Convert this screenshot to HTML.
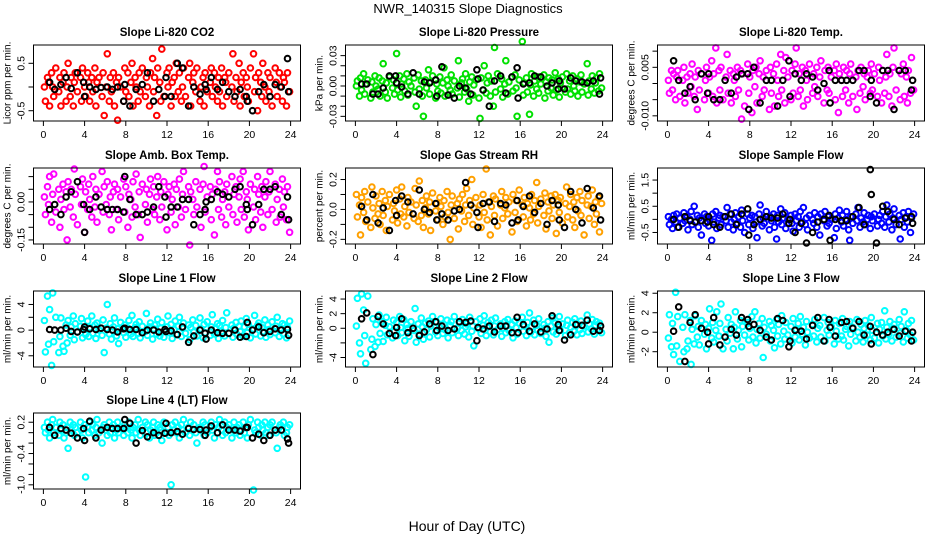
<!DOCTYPE html>
<html><head><meta charset="utf-8"><style>
html,body{margin:0;padding:0;background:#fff;}
svg{display:block;font-family:"Liberation Sans",Arial,sans-serif;}
</style></head><body>
<svg id="chart" width="936" height="540" viewBox="0 0 936 540">
<text x="468" y="13" text-anchor="middle" font-size="13">NWR_140315  Slope Diagnostics</text>
<text x="467" y="531" text-anchor="middle" font-size="14">Hour of Day (UTC)</text>
</svg>
<script>
const hc=[0.1,0.2,0.4,0.5,0.6,0.8,0.9,1.0,1.2,1.5,1.6,1.7,1.9,2.0,2.2,2.3,2.4,2.6,2.7,2.9,3.0,3.1,3.3,3.6,3.7,3.8,4.0,4.1,4.3,4.4,4.5,4.7,4.8,5.0,5.1,5.2,5.4,5.7,5.8,5.9,6.1,6.2,6.4,6.5,6.6,6.8,6.9,7.1,7.2,7.3,7.5,7.8,7.9,8.0,8.2,8.3,8.5,8.6,8.7,8.9,9.0,9.2,9.3,9.4,9.6,9.9,10.0,10.1,10.3,10.4,10.6,10.7,10.8,11.0,11.1,11.3,11.4,11.5,11.7,12.0,12.1,12.2,12.4,12.5,12.7,12.8,12.9,13.1,13.2,13.4,13.5,13.6,13.8,14.1,14.2,14.3,14.5,14.6,14.8,14.9,15.2,15.3,15.5,15.6,15.7,15.9,16.2,16.3,16.4,16.6,16.7,16.9,17.0,17.1,17.3,17.4,17.6,17.7,17.8,18.0,18.3,18.4,18.5,18.7,18.8,19.0,19.1,19.2,19.4,19.5,19.7,19.8,19.9,20.1,20.4,20.5,20.6,20.8,20.9,21.1,21.2,21.3,21.5,21.6,21.8,21.9,22.0,22.2,22.5,22.6,22.7,22.9,23.0,23.2,23.3,23.4,23.6,23.7,23.9];
const hb=[0.6,1.1,1.7,2.2,2.7,3.3,3.9,4.0,4.5,5.1,5.6,6.2,6.7,7.2,7.8,7.9,8.4,9.0,9.6,10.1,10.7,11.2,11.8,11.9,12.4,13.0,13.5,14.1,14.6,15.2,15.7,15.8,16.3,16.9,17.4,18.0,18.6,19.1,19.7,19.8,20.3,20.9,21.4,22.0,22.5,23.1,23.7,23.8];
const xTicks=[0,4,8,12,16,20,24];

const co2C=[0.0,-0.3,0.2,0.1,-0.4,0.3,0.0,-0.2,0.4,-0.1,0.2,-0.4,0.1,0.3,-0.3,0.0,0.5,-0.2,0.2,-0.4,0.1,0.3,-0.1,0.2,-0.3,0.4,0.0,-0.2,0.3,0.1,-0.3,0.2,-0.1,0.4,-0.4,0.1,0.2,-0.2,0.3,-0.6,0.0,0.7,-0.3,0.2,-0.1,0.3,-0.4,0.1,-0.7,0.2,0.0,-0.3,0.4,-0.1,0.3,-0.2,0.1,0.5,-0.4,0.2,0.0,-0.3,0.3,-0.1,0.4,-0.2,0.2,0.0,-0.4,0.3,0.6,-0.1,0.2,-0.6,0.4,0.1,-0.3,0.8,-0.2,0.3,0.0,0.4,-0.4,0.1,0.2,-0.2,0.5,-0.1,0.3,-0.3,0.0,0.4,-0.2,0.2,0.5,-0.4,0.1,0.3,-0.1,0.4,-0.3,0.0,0.2,-0.4,0.3,-0.1,0.1,0.4,-0.2,0.3,0.0,-0.3,0.2,-0.1,0.4,-0.4,0.2,0.1,-0.2,0.3,0.0,0.7,-0.3,0.2,-0.1,0.5,-0.4,0.1,0.3,-0.2,0.2,0.0,-0.3,0.4,0.7,-0.1,0.2,-0.5,0.3,0.1,-0.2,0.5,0.0,-0.3,0.3,-0.1,0.2,-0.4,0.4,0.1,-0.2,0.3,0.0,-0.3,0.2,0.1,-0.4,0.3,-0.1,0.2];
const co2B=[0.1,-0.05,0.05,0.2,-0.03,0.3,0.1,-0.2,0.0,-0.05,-0.01,0.0,-0.05,0.0,-0.3,0.05,-0.4,-0.05,0.05,0.3,-0.3,-0.05,-0.2,0.2,-0.2,0.5,0.4,-0.4,0.0,-0.15,0.05,-0.05,0.2,-0.05,0.1,-0.1,-0.2,-0.05,-0.2,-0.3,-0.5,-0.1,0.05,-0.2,0.05,0.0,0.6,-0.1];
const presC=[0,.005,-.01,.008,-.004,.012,-.008,.002,.006,-.012,.004,-.006,.01,0,-.003,.008,-.01,.005,.022,-.006,.003,-.012,.009,-.002,.006,-.008,.032,-.004,.01,-.011,.002,.007,-.005,.012,-.009,.004,0,.008,-.006,-.02,.011,-.003,.005,-.01,-.03,.006,-.002,.016,-.008,.004,.01,-.012,.002,-.005,.009,-.007,.003,.018,-.01,.006,0,-.004,.011,-.008,.005,-.002,.025,-.011,.003,.007,-.006,.012,-.003,-.015,.004,.009,-.009,.001,.006,-.012,-.032,.008,-.004,.02,-.007,.003,.01,-.01,.005,-.02,.038,-.006,.012,-.003,.007,-.011,.002,.025,-.008,.004,.009,-.005,.011,-.002,-.03,.006,.044,-.009,.003,.008,-.006,-.028,.001,.012,-.01,.005,-.003,.009,-.007,.002,.011,-.012,.004,-.005,.008,-.002,.006,-.009,.013,-.004,.007,-.011,.003,.009,-.006,.012,-.003,.005,-.008,.01,0,-.005,.007,-.01,.004,.011,-.006,.002,.022,-.009,.005,-.003,.01,-.007,.003,.008,-.005,.012,-.002,-.03];
const presB=[.002,.002,-.008,-.008,-.002,.01,.01,.003,-.001,-.008,.013,-.008,.004,.003,.006,-.01,.019,-.009,-.012,0,-.002,-.008,.016,.007,-.004,-.02,.005,.01,-.007,.009,.018,-.012,.002,.003,.01,.009,0,.003,-.003,.005,-.003,.008,.005,.004,.003,.005,-.008,.008];
const tempC=[.001,-.003,.004,-.002,.003,-.005,.002,.004,-.004,.001,.005,-.006,.002,-.003,.003,-.001,.006,-.004,.002,-.008,.004,-.002,.003,-.005,.001,.005,-.003,.002,.007,-.004,.003,.011,-.006,.004,-.002,.005,-.005,.002,.009,-.003,.004,-.006,.003,.001,-.004,.005,-.002,.004,-.011,.003,-.007,.006,-.003,.002,-.009,.004,-.001,.005,-.006,.003,.007,-.004,.002,-.002,.004,-.008,.005,-.003,.003,-.007,.006,.001,-.004,.009,-.002,.004,-.006,.008,.002,-.005,.004,-.003,.006,.011,-.004,.003,-.002,.005,-.007,.004,.001,-.005,.006,-.003,.003,-.001,.005,-.004,.002,.007,-.006,.004,-.002,.005,-.003,.002,.004,-.005,.006,-.009,.003,.001,-.004,.005,-.002,.004,-.006,.003,.006,-.004,.002,-.008,.004,-.003,.005,-.001,.003,-.005,.002,.004,-.003,.006,-.002,.003,-.004,.005,.001,-.006,.004,-.003,.002,.009,-.004,.003,-.007,.005,.011,-.002,.004,-.005,.003,.006,-.004,.002,-.006,.004,-.003,.008,-.002,-.010,.003,-.007];
const tempB=[.007,.001,-.003,-.001,-.005,.003,-.003,.003,-.005,-.005,.001,-.003,.002,.003,.003,-.008,.005,-.006,.001,.001,-.007,.001,.007,-.004,.003,.001,.003,.002,-.002,0,.004,-.006,.001,.001,.001,.001,.004,.004,-.004,.001,-.006,.004,.004,-.008,.004,.004,-.002,.001];
const ambC=[.02,-.05,.06,-.01,.1,-.08,.03,.11,-.04,.05,-.1,.01,.07,-.03,.04,-.15,.08,-.02,.05,-.06,.13,.03,-.09,.06,-.01,.09,-.12,.04,-.03,.07,.01,-.06,.1,-.02,.05,-.08,.03,.12,-.04,.06,-.01,.08,-.05,.02,-.11,.04,.07,-.03,.05,-.07,.02,.09,-.04,.06,-.1,.03,.01,-.06,.08,-.02,.11,-.05,.04,-.14,.07,-.01,.05,-.08,.03,.09,-.03,.06,-.05,.02,.1,-.07,.04,-.02,.08,-.11,.03,.06,-.04,.01,.07,-.09,.05,-.02,.09,-.06,.03,.12,-.03,.06,-.17,.04,.01,-.05,.08,-.02,.05,-.1,.07,.14,-.04,.02,.06,-.07,.03,-.13,.05,.12,-.03,.08,-.06,.01,.04,-.09,.07,-.02,.1,-.05,.03,.06,-.08,.02,.09,-.03,.12,-.06,.04,.01,-.11,.07,-.02,.05,-.07,.1,.03,-.04,.06,-.1,.02,.08,-.05,.04,.12,-.03,.07,-.08,.01,.05,-.06,.09,-.02,.04,-.07,.06,-.12,.03,.1,-.04,.05,-.09];
const ambB=[-.03,-.01,-.05,.02,.04,.08,-.01,-.12,-.03,.02,-.02,-.03,-.03,-.03,-.04,.1,.01,-.05,-.05,-.04,-.02,.06,.02,-.06,-.02,-.02,.01,.01,-.09,-.05,-.03,0,.01,.04,.03,.02,.05,.06,-.01,-.03,-.09,-.01,.05,.05,.06,-.05,.02,-.07];
const rhC=[.1,-.05,.03,-.17,.08,-.02,.12,-.08,.05,-.12,.15,.01,-.06,.09,-.03,.04,-.1,.12,-.04,.06,-.14,.02,.1,-.07,.04,-.01,.13,-.09,.07,-.03,.15,-.05,.02,-.11,.08,-.02,.05,-.06,.14,.03,-.08,.19,-.04,.06,-.12,.01,.09,-.03,.05,-.14,.11,-.01,.04,-.07,.08,.02,-.1,.06,-.05,.12,-.02,-.2,.03,.09,-.06,.04,-.13,.07,-.01,.1,-.08,.03,.14,-.04,.06,.2,-.1,.01,.08,-.05,.03,-.12,.1,-.02,.27,-.07,.05,-.17,.02,.09,-.04,.07,-.11,.03,.12,-.06,.01,.08,-.03,.05,-.15,.1,-.02,.06,-.08,.13,.03,-.05,.08,-.11,.04,.01,-.07,.1,-.03,.06,.18,-.09,.02,.07,-.04,.11,-.13,.05,-.01,.09,-.06,.03,.1,-.16,.06,-.02,.08,-.09,.04,.15,-.05,.02,.1,-.07,.05,-.12,.08,-.01,.12,-.04,.06,-.17,.03,.09,-.06,.02,.13,-.1,.05,-.03,.08,-.15,.04,-.01,.1,-.07,.03];
const rhB=[.02,-.07,.1,-.09,.01,-.14,.06,-.04,.09,.05,-.03,.13,0,-.02,.04,-.07,-.03,-.07,-.01,0,.18,.03,-.02,-.12,.04,.05,-.08,.04,.03,-.09,.06,-.07,.02,.09,-.02,.04,-.1,.06,.03,-.07,-.12,.12,0,-.09,.14,.01,.09,-.07];
const sfC=[.1,-.2,0,-.35,.15,-.1,.2,-.3,.05,-.15,.25,-.05,.1,-.4,0,.3,-.2,.5,-.1,.15,-.3,.05,-.6,.2,-.15,.1,-.25,0,-.8,.2,-.1,.3,-.35,.05,.15,-.2,.1,-.05,.45,-.3,.2,-.1,-.4,0,.25,-.15,.1,-.3,.35,-.05,-.5,.2,-.2,.05,.15,-.35,.1,-.1,-.7,.2,.55,-.25,.05,-.15,.3,-.4,.1,-.05,.2,-.3,-.75,.15,-.1,.4,-.2,.05,.25,-.35,0,.15,-.15,-.45,.2,-.05,.1,-.3,.3,-.1,.45,-.2,.05,-.4,.15,0,-.15,.25,-.3,.1,-.6,.2,-.05,.3,-.25,.1,-.15,0,-.7,.2,-.35,.05,.35,-.1,.15,-.25,0,.3,-.4,-.8,.1,-.15,.2,-.05,.45,-.3,.05,-.1,.25,-.2,0,.15,-.35,.1,-.05,.2,-.25,0,.15,-.15,.3,-.3,.1,.55,-.1,.2,-.4,.05,.4,-.2,.15,-.75,0,.25,-.3,.1,-.1,.3,-.5,.05,.2,-.15,.35,-.4];
const sfB=[0,-.3,.1,-.05,-.1,-.05,-.1,.1,-.2,-.3,.1,.2,-.2,.2,.4,-.6,-.2,0,.1,.05,.05,.2,-.15,0,-.5,-.15,-.9,-.5,-.1,0,.15,-.8,0,-.05,-.05,.1,.45,-.2,1.9,.95,-.9,.5,.3,0,-.2,.05,.1,-.15];
const l1C=[1.5,-3.4,5.3,-2.2,3.2,-5.5,5.8,-1.8,2.0,-3.5,-1.0,1.9,-2.5,-3.3,0.8,-2.0,1.5,-0.8,0.5,2.2,-1.5,1.0,-0.3,0.6,1.8,-1.2,0.2,-0.7,1.4,-1.0,0.4,2.2,-0.5,0.8,-1.3,1.1,0.0,-0.8,1.6,-3.5,0.3,4.0,-0.6,1.0,-1.4,0.5,1.9,-0.9,0.2,-2.1,1.2,-0.4,0.8,-1.1,0.3,1.5,-0.6,2.3,-1.0,0.4,0.9,-0.5,1.3,-1.2,0.6,-0.2,2.6,-0.8,0.5,1.1,-1.4,0.2,0.8,-0.6,1.7,-0.9,0.3,1.2,-1.1,0.5,2.2,-0.4,0.9,-1.3,0.1,1.4,-0.7,0.6,2.0,-1.0,0.3,1.1,-0.5,0.8,-1.5,0.4,1.6,-0.3,0.7,-0.9,1.9,0.2,-1.2,0.9,-0.4,1.3,-0.8,0.5,2.4,-0.6,0.2,1.0,-1.3,0.7,-0.2,1.5,-0.9,0.4,2.7,-0.5,0.8,-1.1,0.3,1.2,-0.7,0.6,-0.2,1.4,-1.0,0.5,1.8,-0.4,0.9,-1.2,0.2,2.3,-0.6,0.7,1.1,-0.9,0.4,-0.3,1.6,-1.1,0.8,0.1,-0.7,1.3,-0.4,0.6,2.0,-1.0,0.3,1.0,-0.6,0.8,-1.2,0.4,1.4,-0.5];
const l1B=[.1,0,0,.3,-.2,-.3,.1,.5,.2,.1,.3,.1,0,-.3,.2,.3,.1,.1,-.4,0,0,-.3,.1,-.2,-.1,-.7,.5,-1.9,-.9,0,-.5,-1.4,0,-.4,-.5,-.5,0,-1.1,-1.0,1.2,0,.5,-.4,-.2,.2,0,.1,-.8];
const l2C=[0.3,4.1,-2.0,-3.5,4.7,2.5,-1.0,-4.8,4.4,-2.9,-1.5,1.3,-2.5,0.5,-1.9,1.8,-0.7,0.9,-1.8,0.4,1.5,-0.9,0.2,-1.3,1.1,-0.4,0.8,-1.0,1.6,0.1,-0.6,1.2,-1.7,0.5,0.0,-1.1,0.9,-0.3,2.7,-1.9,0.6,-0.8,1.4,0.2,-1.5,0.7,-0.2,1.0,-1.2,0.3,1.6,-0.5,0.8,-1.0,0.1,1.3,-0.7,0.5,-0.2,1.1,-1.3,0.4,0.9,-0.6,1.6,0.0,-1.0,0.7,-0.3,1.2,-0.8,0.2,0.6,-1.2,1.5,-0.4,0.3,-2.4,0.9,-0.1,1.3,-0.7,0.4,1.7,-1.0,0.2,0.8,-0.5,1.1,-0.9,0.3,1.4,-0.2,0.6,-1.1,0.0,0.9,-0.6,1.2,-0.3,0.5,-1.3,1.0,0.1,-0.8,0.7,1.5,-0.4,0.3,-1.0,0.8,2.1,-0.6,0.2,1.1,-0.9,0.4,-0.2,1.3,-0.7,0.5,0.0,-1.1,0.9,-1.9,0.3,1.4,-0.5,0.7,-0.8,0.2,1.6,-0.3,0.6,-1.0,0.4,1.1,-0.6,0.1,0.8,-0.4,1.3,-0.9,0.5,-0.2,1.0,-0.7,0.3,1.8,-0.5,0.6,-0.1,1.2,-0.8,0.4,0.9,-0.3,0.7,-0.6,1.4,0.1,-0.4];
const l2B=[1.3,2.1,-3.6,1.6,0.6,-0.7,-1.0,0.1,1.3,-0.6,0.0,-1.0,-0.5,0.6,0.9,-0.3,0.3,-0.3,-0.1,0.9,0.8,1.0,-1.7,0.1,-0.1,0.3,-0.5,0.3,0.3,-0.6,1.5,-0.6,0.5,-0.4,0.6,-0.5,-0.1,1.7,0.5,-0.3,-1.6,-0.9,0.5,0.4,1.1,-0.4,-0.3,0.3];
const l3C=[-0.6,1.8,-1.5,0.9,-2.3,4.1,-1.4,1.6,-3.0,0.5,-2.0,1.8,-1.7,-0.9,1.2,-3.3,0.3,-1.2,1.7,-0.5,0.6,-1.3,1.2,-0.2,0.8,-1.7,0.4,2.4,-0.6,1.0,-1.0,0.2,2.1,-0.4,0.9,2.9,-1.7,0.3,-0.9,1.5,-0.1,0.8,-1.7,0.5,2.1,-0.7,0.2,1.2,-1.5,0.6,-0.3,1.0,-0.8,0.4,1.6,-0.5,2.1,-1.1,0.3,0.9,-0.6,1.4,-2.6,0.5,-0.2,1.1,-0.9,0.7,0.2,-1.6,1.3,-0.4,0.8,-1.2,1.7,0.1,-0.7,1.0,-0.3,0.6,-1.1,1.4,-0.5,0.3,0.9,-0.8,1.6,-0.2,0.5,-1.3,1.1,0.0,-0.6,0.8,-0.4,1.3,-1.0,0.4,0.7,-0.5,1.5,-0.9,0.2,1.0,-0.3,0.6,-1.2,1.2,0.1,-0.7,0.9,-0.4,1.4,-0.8,0.3,0.6,-1.4,1.1,-0.2,0.5,-0.9,1.3,0.0,-0.5,0.8,-1.0,0.4,1.2,-0.3,0.7,-0.8,1.5,0.2,-0.6,0.9,-1.1,0.3,1.0,-0.4,2.2,-0.7,0.5,-0.2,1.1,-0.9,0.4,0.8,-0.5,1.3,-0.1,0.6,-1.0,2.1,0.2,-0.6,0.9,-0.3,1.2,-0.8,0.4];
const l3B=[0.1,2.6,-3.0,1.0,1.8,0.4,0.0,-1.2,1.5,-1.3,-0.5,0.3,-0.3,1.5,1.3,0.6,0.8,0.2,-0.5,-0.8,1.4,1.2,-1.5,-0.9,0.2,0.1,-0.7,0.7,1.5,-0.9,1.3,0.5,-0.4,1.0,1.1,0.4,1.1,-0.3,0.6,-1.2,0.0,-0.3,0.0,0.3,-0.4,0.1,-0.9,0.0];
const l4C=[.1,0,.2,.05,-.1,.15,.25,0,.1,-.05,.2,.05,.15,-.1,0,.1,-.3,.2,.05,.15,-.05,.1,0,.2,.05,-.1,.15,-.85,.1,0,.2,.05,.15,-.05,.1,.25,0,-.2,.1,.15,.05,-.05,.2,0,.1,.15,-.1,.05,.2,0,.1,-.05,.15,.1,0,.2,.05,-.1,.1,.15,0,.25,.05,-.05,.1,.2,0,.15,-.1,.05,.1,.2,-.05,0,.15,.1,.05,-.15,.2,0,.1,-.05,-1.0,.15,.05,.2,0,.1,-.1,.15,.05,.25,0,.1,-.05,.2,.05,.15,0,-.2,.1,.05,.2,-.05,.15,0,.1,.2,.05,-.1,.15,0,.1,.25,.05,-.05,.2,0,.1,.15,-.1,.05,.2,0,.1,.15,-.05,.05,.2,0,.1,-.1,.15,.25,-1.1,.05,0,.2,.1,-.05,.15,.05,.2,0,.1,-.05,.15,.2,.05,0,-.3,.1,.15,.05,.2,-.05,0,.1,.15];
const l4B=[.1,-.05,.08,.05,-.01,-.1,.08,-.15,.22,-.1,.05,.1,.08,.08,.08,.25,.18,-.2,.04,-.08,0,-.05,-.01,.18,0,.02,-.03,.08,.06,.06,-.05,.05,.13,0,.15,.05,.05,.03,.1,.1,-.1,-.03,-.15,-.05,.05,.05,-.12,-.2,.15];

const co2Ticks=[-0.5,0,0.5], co2Labels=["-0.5","","0.5"];
const presTicks=[-0.03,-0.02,-0.01,0,0.01,0.02,0.03], presLabels=["-0.03","","","0.00","","","0.03"];
const tempTicks=[-0.01,-0.005,0,0.005,0.01], tempLabels=["-0.010","","","0.005",""];
const ambTicks=[-0.15,-0.1,-0.05,0,0.05,0.1], ambLabels=["-0.15","","","0.00","",""];
const rhTicks=[-0.2,-0.1,0,0.1,0.2], rhLabels=["-0.2","","0.0","","0.2"];
const sfTicks=[-0.5,0,0.5,1,1.5], sfLabels=["-0.5","","0.5","","1.5"];
const l1Ticks=[-4,-2,0,2,4], l1Labels=["-4","","0","","4"];
const l2Ticks=[-4,-2,0,2,4], l2Labels=["-4","","0","2","4"];
const l3Ticks=[-2,0,2,4], l3Labels=["-2","0","2","4"];
const l4Ticks=[-1.0,-0.8,-0.6,-0.4,-0.2,0,0.2], l4Labels=["-1.0","","","-0.4","","","0.2"];

const NS="http://www.w3.org/2000/svg";
const svg=document.getElementById('chart');
function mk(tag,attrs,parent){const e=document.createElementNS(NS,tag);for(const k in attrs)e.setAttribute(k,attrs[k]);(parent||svg).appendChild(e);return e;}

const panels=[
 {t:"Slope Li-820 CO2",yl:"Licor ppm per min.",c:"#ff0000",yc:co2C,yb:co2B,tk:co2Ticks,lb:co2Labels,lo:-0.717,hi:0.886,col:0,row:0},
 {t:"Slope Li-820 Pressure",yl:"kPa per min.",c:"#00e000",yc:presC,yb:presB,tk:presTicks,lb:presLabels,lo:-0.0346,hi:0.0405,col:1,row:0},
 {t:"Slope Li-820 Temp.",yl:"degrees C per min.",c:"#ff00ff",yc:tempC,yb:tempB,tk:tempTicks,lb:tempLabels,lo:-0.0116,hi:0.0119,col:2,row:0},
 {t:"Slope Amb. Box Temp.",yl:"degrees C per min.",c:"#ff00ff",yc:ambC,yb:ambB,tk:ambTicks,lb:ambLabels,lo:-0.166,hi:0.134,col:0,row:1},
 {t:"Slope Gas Stream RH",yl:"percent per min.",c:"#ffa000",yc:rhC,yb:rhB,tk:rhTicks,lb:rhLabels,lo:-0.231,hi:0.277,col:1,row:1},
 {t:"Slope Sample Flow",yl:"ml/min per min.",c:"#0000ff",yc:sfC,yb:sfB,tk:sfTicks,lb:sfLabels,lo:-0.94,hi:1.96,col:2,row:1},
 {t:"Slope Line 1 Flow",yl:"ml/min per min.",c:"#00ffff",yc:l1C,yb:l1B,tk:l1Ticks,lb:l1Labels,lo:-5.75,hi:6.1,col:0,row:2},
 {t:"Slope Line 2 Flow",yl:"ml/min per min.",c:"#00ffff",yc:l2C,yb:l2B,tk:l2Ticks,lb:l2Labels,lo:-5.3,hi:5.1,col:1,row:2},
 {t:"Slope Line 3 Flow",yl:"ml/min per min.",c:"#00ffff",yc:l3C,yb:l3B,tk:l3Ticks,lb:l3Labels,lo:-3.57,hi:4.23,col:2,row:2},
 {t:"Slope Line 4 (LT) Flow",yl:"ml/min per min.",c:"#00ffff",yc:l4C,yb:l4B,tk:l4Ticks,lb:l4Labels,lo:-1.08,hi:0.377,col:0,row:3}
];
const colX=[33.5,345.5,657.5], rowY=[45,168,291,413], W=267, H=76;

panels.forEach((p,pi)=>{
  const L=colX[p.col], T=rowY[p.row], B=T+H, R=L+W;
  const xS=h=>L+W*(h+0.96)/25.92;
  const yS=v=>B-H*(v-p.lo)/(p.hi-p.lo);
  const g=mk('g',{});
  
  
  const tt=mk('text',{x:L+W/2,y:T-9,'text-anchor':'middle','font-size':11.5,'font-weight':'bold'},g);
  tt.textContent=p.t;
  
  
  const pts=mk('g',{fill:'none','stroke-width':2},g);
  
  
  const n=Math.min(hc.length,p.yc.length);
  for(let i=0;i<n;i++){
    const c=mk('circle',{cx:xS(hc[i]).toFixed(1),cy:yS(p.yc[i]).toFixed(1),r:2.8,stroke:p.c},pts);
    
    
  }
  const nb=Math.min(hb.length,p.yb.length);
  for(let i=0;i<nb;i++){
    const c=mk('circle',{cx:xS(hb[i]).toFixed(1),cy:yS(p.yb[i]).toFixed(1),r:2.8,stroke:'#000'},pts);
    
    
  }
  const box=mk('rect',{x:L,y:T,width:W,height:H,fill:'none',stroke:'#000','stroke-width':1},g);
  
  
  const xa=mk('g',{},g);
  
  
  xTicks.forEach(v=>{
    const x=xS(v);
    mk('line',{x1:x,x2:x,y1:B,y2:B+5,stroke:'#000'},xa);
    const t=mk('text',{x:x,y:B+17,'text-anchor':'middle','font-size':10.5},xa);
    t.textContent=v;
  });
  const ya=mk('g',{},g);
  
  
  p.tk.forEach((v,i)=>{
    const y=yS(v);
    mk('line',{x1:L-5,x2:L,y1:y,y2:y,stroke:'#000'},ya);
    if(p.lb[i]){
      const t=mk('text',{x:0,y:0,'text-anchor':'middle','font-size':10.5,transform:`translate(${L-9},${y}) rotate(-90)`},ya);
      t.textContent=p.lb[i];
    }
  });
  const yt=mk('text',{x:0,y:0,'text-anchor':'middle','font-size':10,transform:`translate(${L-23},${T+H/2}) rotate(-90)`},g);
  yt.textContent=p.yl;
  
  
});
</script>
</body></html>
